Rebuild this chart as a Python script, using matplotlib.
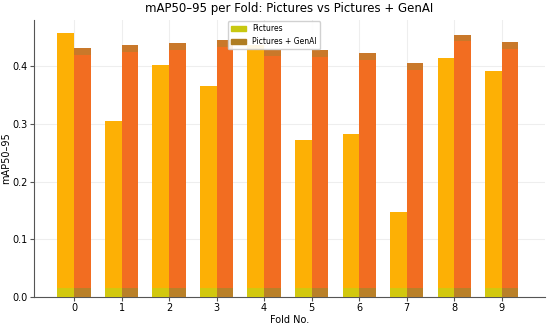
import numpy as np
import matplotlib.pyplot as plt
from matplotlib.patches import Patch

folds = list(range(10))
pictures = [0.458, 0.306, 0.403, 0.366, 0.437, 0.272, 0.282, 0.147, 0.414, 0.392]
genai = [0.431, 0.437, 0.441, 0.446, 0.429, 0.428, 0.423, 0.405, 0.455, 0.442]

fig = plt.figure(figsize=(5.5, 3.24), dpi=100)
ax = fig.add_axes([0.062, 0.083, 0.928, 0.855])

x = np.array(folds)
w = 0.35
ax.bar(x - w / 2, pictures, w, color="#FDB005", zorder=2)
ax.bar(x + w / 2, genai, w, color="#F26D21", zorder=2)
# darker caps / bottom bands seen in the reference
ax.bar(x + w / 2, [0.012] * 10, w, bottom=np.array(genai) - 0.012, color="#C9782A", zorder=3)
ax.bar(x - w / 2, [0.015] * 10, w, color="#D2C80E", zorder=3)
ax.bar(x + w / 2, [0.015] * 10, w, color="#B98028", zorder=3)

ax.set_xlim(-0.84, 9.9)
ax.set_ylim(0, 0.48)
ax.set_xticks(x)
ax.set_yticks([0.0, 0.1, 0.2, 0.3, 0.4])
ax.tick_params(labelsize=7, length=3, pad=1.5, color="#555555")
ax.grid(True, color="#eeeeee", linewidth=0.8, zorder=0)
for s in ["top", "right"]:
    ax.spines[s].set_visible(False)
for s in ["left", "bottom"]:
    ax.spines[s].set_color("#555555")

ax.set_xlabel("Fold No.", fontsize=7, labelpad=1)
ax.set_ylabel("mAP50–95", fontsize=7, labelpad=1)
ax.set_title("mAP50–95 per Fold: Pictures vs Pictures + GenAI", fontsize=8.5, pad=6)

handles = [Patch(color="#C8C810", label="Pictures"),
           Patch(color="#B07E22", label="Pictures + GenAI")]
ax.legend(handles=handles, loc="upper center", bbox_to_anchor=(0.47, 1.01),
          fontsize=5.5, handlelength=2, framealpha=0.9)

fig.savefig("out.png", dpi=100)
